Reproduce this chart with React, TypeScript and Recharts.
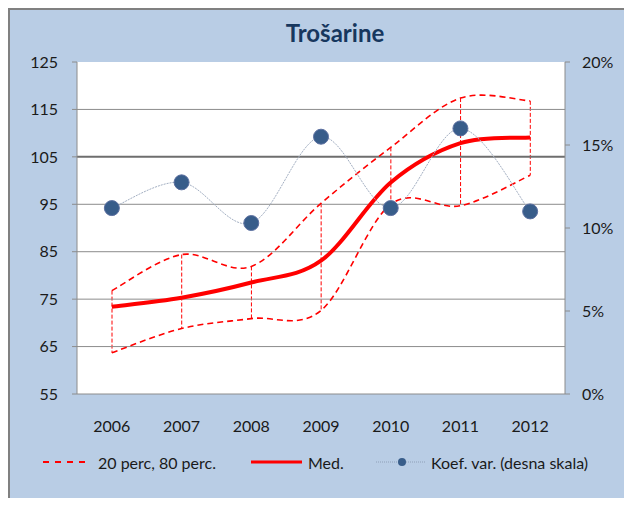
import React from 'react'
import {
  ComposedChart,
  Line,
  Bar,
  XAxis,
  YAxis,
  CartesianGrid,
  ReferenceLine
} from 'recharts'

const years = ['2006', '2007', '2008', '2009', '2010', '2011', '2012']
const perc80 = [76.8, 84.4, 81.9, 95.2, 107.0, 117.4, 116.8]
const perc20 = [63.7, 68.8, 70.9, 72.6, 95.0, 94.7, 101.1]
const median = [73.4, 75.3, 78.5, 83.1, 99.6, 107.9, 109.1]
const koefVar = [0.112, 0.1275, 0.103, 0.155, 0.112, 0.16, 0.11]

const leftTicks = [55, 65, 75, 85, 95, 105, 115, 125]
const rightTicks = [0, 0.05, 0.1, 0.15, 0.2]
const gridLines = [65, 75, 85, 95, 105, 115]

const data = years.map((year, i) => ({
  year,
  p80: perc80[i],
  p20: perc20[i],
  med: median[i],
  koef: koefVar[i],
  range: [perc20[i], perc80[i]]
}))

const BG = '#b9cde5'
const RED = '#ff0000'
const AXIS = '#8c8c8c'
const TEXT = '#1a1a1a'

// excel-like smoothed line (catmull-rom through the points)
const excelSmooth = (context: any) => {
  let pts: number[][] = []
  return {
    areaStart() {},
    areaEnd() {},
    lineStart() {
      pts = []
    },
    point(x: number, y: number) {
      pts.push([+x, +y])
    },
    lineEnd() {
      if (!pts.length) return
      context.moveTo(pts[0][0], pts[0][1])
      for (let i = 0; i < pts.length - 1; i++) {
        const p0 = pts[Math.max(i - 1, 0)]
        const p1 = pts[i]
        const p2 = pts[i + 1]
        const p3 = pts[Math.min(i + 2, pts.length - 1)]
        context.bezierCurveTo(
          p1[0] + (p2[0] - p0[0]) / 6,
          p1[1] + (p2[1] - p0[1]) / 6,
          p2[0] - (p3[0] - p1[0]) / 6,
          p2[1] - (p3[1] - p1[1]) / 6,
          p2[0],
          p2[1]
        )
      }
    }
  }
}

const HiLow = (props: any) => {
  const { x, y, width, height } = props
  if (x == null || y == null) return null
  const cx = x + width / 2
  const top = Math.min(y, y + height)
  const bottom = Math.max(y, y + height)
  return (
    <line
      x1={cx}
      x2={cx}
      y1={top}
      y2={bottom}
      stroke={RED}
      strokeWidth={1}
      strokeDasharray="4 2"
    />
  )
}

const legendText: React.CSSProperties = { fontSize: 16, color: TEXT, whiteSpace: 'nowrap' }

function LegendItem({ left, sample, label }: { left: number; sample: React.ReactNode; label: string }) {
  return (
    <div style={{ position: 'absolute', left, top: 442, height: 20, display: 'flex', alignItems: 'center' }}>
      {sample}
      <span style={legendText}>{label}</span>
    </div>
  )
}

export default function App() {
  return (
    <div
      style={{
        position: 'relative',
        width: 622,
        height: 496,
        marginBottom: -8,
        background: BG,
        borderLeft: '2px solid #808080',
        borderTop: '2px solid #808080',
        fontFamily: 'Lato, "Open Sans", sans-serif'
      }}
    >
      <div
        style={{
          position: 'absolute',
          left: 225,
          top: 8,
          width: 200,
          textAlign: 'center',
          fontSize: 24,
          fontWeight: 'bold',
          color: '#17375e'
        }}
      >
        Trošarine
      </div>

      <ComposedChart width={622} height={440} data={data} margin={{ top: 52, right: 0, left: 0, bottom: 16 }}>
        <CartesianGrid horizontal={false} vertical={false} fill="#ffffff" />
        {gridLines.map((v) => (
          <ReferenceLine
            key={v}
            y={v}
            yAxisId="left"
            stroke={v === 105 ? '#6e6e6e' : AXIS}
            strokeWidth={v === 105 ? 2 : 1}
          />
        ))}
        <XAxis
          dataKey="year"
          interval={0}
          tickLine={false}
          tickSize={0}
          tickMargin={27}
          axisLine={{ stroke: AXIS }}
          tick={{ fill: TEXT, fontSize: 16 }}
          height={40}
        />
        <YAxis
          yAxisId="left"
          domain={[55, 125]}
          ticks={leftTicks}
          interval={0}
          width={67}
          tickSize={5}
          tickMargin={14}
          axisLine={{ stroke: AXIS }}
          tickLine={{ stroke: AXIS }}
          tick={{ fill: TEXT, fontSize: 16 }}
        />
        <YAxis
          yAxisId="right"
          orientation="right"
          domain={[0, 0.2]}
          ticks={rightTicks}
          interval={0}
          width={67}
          tickSize={5}
          tickMargin={12}
          axisLine={{ stroke: AXIS }}
          tickLine={{ stroke: AXIS }}
          tick={{ fill: TEXT, fontSize: 16 }}
          tickFormatter={(v: number) => `${Math.round(v * 100)}%`}
        />
        <Bar dataKey="range" yAxisId="left" barSize={2} shape={HiLow} isAnimationActive={false} />
        <Line
          dataKey="p80"
          yAxisId="left"
          type={excelSmooth as any}
          stroke={RED}
          strokeWidth={1.6}
          strokeDasharray="6 4"
          dot={false}
          activeDot={false}
          isAnimationActive={false}
        />
        <Line
          dataKey="p20"
          yAxisId="left"
          type={excelSmooth as any}
          stroke={RED}
          strokeWidth={1.6}
          strokeDasharray="6 4"
          dot={false}
          activeDot={false}
          isAnimationActive={false}
        />
        <Line
          dataKey="med"
          yAxisId="left"
          type={excelSmooth as any}
          stroke={RED}
          strokeWidth={4}
          dot={false}
          activeDot={false}
          isAnimationActive={false}
        />
        <Line
          dataKey="koef"
          yAxisId="right"
          type={excelSmooth as any}
          stroke="#a3afc2"
          strokeWidth={1}
          strokeDasharray="2 1"
          dot={{ r: 7.5, fill: '#385d8a', stroke: '#5b6fa0', strokeWidth: 1, strokeDasharray: '' }}
          activeDot={false}
          isAnimationActive={false}
        />
      </ComposedChart>

      <LegendItem
        left={33}
        label="20 perc, 80 perc."
        sample={
          <svg width={55} height={20}>
            <line x1={0} x2={46} y1={10} y2={10} stroke={RED} strokeWidth={2} strokeDasharray="6 6" />
          </svg>
        }
      />
      <LegendItem
        left={241}
        label="Med."
        sample={
          <svg width={57} height={20}>
            <line x1={0} x2={51} y1={10} y2={10} stroke={RED} strokeWidth={3} />
          </svg>
        }
      />
      <LegendItem
        left={366}
        label="Koef. var. (desna skala)"
        sample={
          <svg width={55} height={20}>
            <line x1={0} x2={49} y1={10} y2={10} stroke="#8fa0b8" strokeWidth={1} strokeDasharray="1 1" />
            <circle cx={26} cy={10} r={4} fill="#385d8a" />
          </svg>
        }
      />
    </div>
  )
}
